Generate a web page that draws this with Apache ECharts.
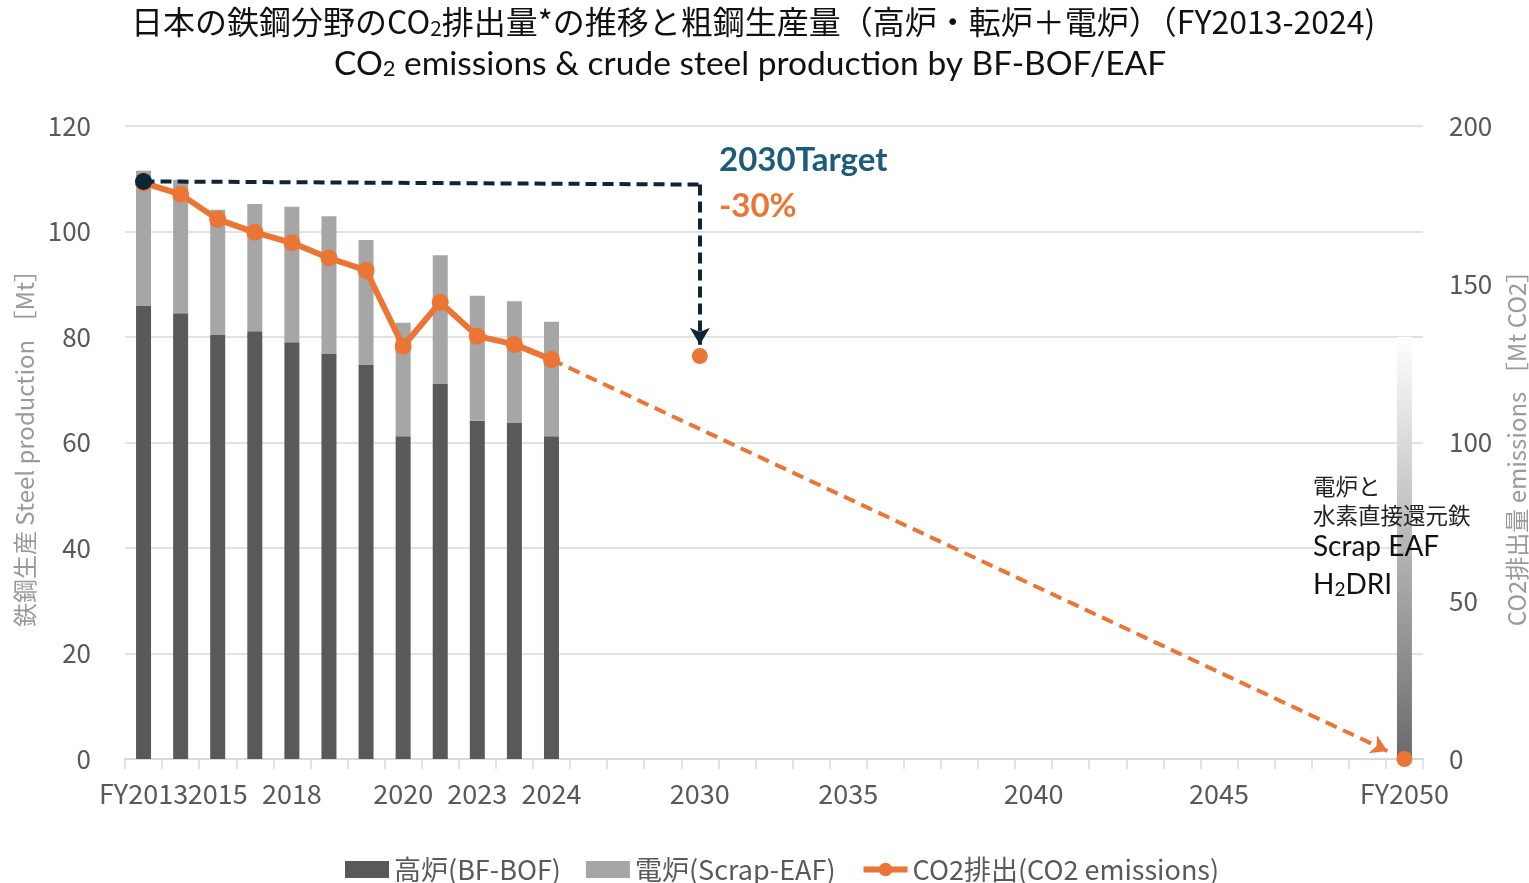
<!DOCTYPE html>
<html><head><meta charset="utf-8">
<script src="https://cdn.jsdelivr.net/npm/echarts@6/dist/echarts.min.js"></script>
<style>html,body{margin:0;padding:0;background:#fff}#c{width:1529px;height:883px}</style>
</head><body><div id="c"></div>
<script>
// ---- data ----
const tickLabels = ['FY2013','','2015','','2018','','','2020','','2023','','2024','','','','2030','','','','2035','','','','','2040','','','','','2045','','','','','FY2050'];
const bfProduction  = [85.9, 84.5, 80.4, 81.1, 79.0, 76.8, 74.8, 61.2, 71.1, 64.1, 63.7, 61.2];
const eafProduction = [25.6, 25.3, 23.7, 24.1, 25.7, 26.1, 23.6, 21.5, 24.4, 23.7, 23.1, 21.7];
const co2Emissions  = [182.0, 178.4, 170.5, 166.4, 163.1, 158.3, 154.4, 130.4, 144.3, 133.6, 131.0, 126.2];
const targetIndex = 15, targetCo2 = 127.3;       // 2030 target (-30%)
const endIndex = 34, endCo2 = 0;                 // FY2050
const endProduction = 80;                        // Scrap EAF / H2DRI column

// ---- build ----
const N = tickLabels.length;
const categories = tickLabels.map((l, i) => 'c' + i);
const pad = arr => { const out = new Array(N).fill(null); arr.forEach((v, i) => out[i] = v); return out; };
const bfData = pad(bfProduction);
const eafData = pad(eafProduction);
const co2Data = pad(co2Emissions);
const futureData = new Array(N).fill(null); futureData[endIndex] = endProduction;

const ORANGE = '#EB7534', NAVY = '#0D2535', GREY = '#595959';
const last = co2Emissions.length - 1;
const t = 0.98;
const arrowEnd = [last + (endIndex - last) * t, co2Emissions[last] + (endCo2 - co2Emissions[last]) * t];

const chart = echarts.init(document.getElementById('c'));
chart.setOption({
  animation: false,
  textStyle: { fontFamily: '"Noto Sans CJK JP", "Noto Sans", sans-serif' },
  title: [
    { text: '{a|日本の鉄鋼分野のCO}{s|2}{a|排出量*の推移と粗鋼生産量（高炉・転炉＋電炉）（FY2013-2024)}',
      left: 131, top: 2, padding: 0,
      textStyle: { fontWeight: 'normal', rich: {
        a: { fontSize: 32, fontWeight: 'normal', color: '#111', fontFamily: '"Noto Sans CJK JP"', lineHeight: 40 },
        s: { fontSize: 21, fontWeight: 'normal', color: '#111', fontFamily: '"Noto Sans CJK JP"', lineHeight: 40, verticalAlign: 'bottom', padding: [0,0,3,0] } } } },
    { text: '{a|CO}{s|2}{a| emissions & crude steel production by BF-BOF/EAF}',
      left: 334, top: 44, padding: 0,
      textStyle: { fontWeight: 'normal', rich: {
        a: { fontSize: 33.5, fontWeight: 'normal', color: '#111', fontFamily: 'Lato', lineHeight: 40 },
        s: { fontSize: 22, fontWeight: 'normal', color: '#111', fontFamily: 'Lato', lineHeight: 40, verticalAlign: 'bottom', padding: [0,0,4,0] } } } }
  ],
  legend: {
    top: 851, left: 340, itemWidth: 44, itemHeight: 17, itemGap: 25,
    textStyle: { fontSize: 27, color: GREY, fontFamily: '"Noto Sans CJK JP"' },
    lineStyle: { width: 6 },
    data: [
      { name: '高炉(BF-BOF)', icon: 'rect' },
      { name: '電炉(Scrap-EAF)', icon: 'rect' },
      { name: 'CO2排出(CO2 emissions)' }
    ]
  },
  grid: { left: 125, right: 106, top: 126, bottom: 124, containLabel: false, outerBoundsMode: 'none' },
  xAxis: [
    { type: 'category', data: categories, boundaryGap: true,
      axisLine: { lineStyle: { color: '#D9D9D9', width: 2 } },
      axisTick: { show: true, interval: 0, length: 10, lineStyle: { color: '#D9D9D9', width: 1.5 } },
      axisLabel: { interval: 0, margin: 21, fontSize: 27, color: GREY, hideOverlap: false, formatter: (v, i) => tickLabels[i] } },
    { type: 'value', min: -0.5, max: N - 0.5, show: false }
  ],
  yAxis: [
    { type: 'value', min: 0, max: 120, interval: 20, position: 'left',
      name: '鉄鋼生産 Steel production ［Mt］', nameLocation: 'middle', nameRotate: 90, nameGap: 84,
      nameTextStyle: { fontSize: 24, color: '#9A9A9A' },
      axisLine: { show: false }, axisTick: { show: false },
      axisLabel: { fontSize: 26, color: GREY, margin: 34 },
      splitLine: { lineStyle: { color: '#D9D9D9', width: 1.5 } } },
    { type: 'value', min: 0, max: 200, interval: 50, position: 'right',
      name: 'CO2排出量 emissions ［Mt CO2］', nameLocation: 'middle', nameRotate: 90, nameGap: 82,
      nameTextStyle: { fontSize: 24, color: '#9A9A9A' },
      axisLine: { show: false }, axisTick: { show: false },
      axisLabel: { fontSize: 26, color: GREY, margin: 26 },
      splitLine: { show: false } }
  ],
  series: [
    { name: '高炉(BF-BOF)', type: 'bar', stack: 'p', barWidth: 15, data: bfData,
      itemStyle: { color: '#595959' }, silent: true },
    { name: '電炉(Scrap-EAF)', type: 'bar', stack: 'p', barWidth: 15, data: eafData,
      itemStyle: { color: '#A6A6A6' }, silent: true },
    { name: 'future', type: 'bar', stack: 'p', barWidth: 15, data: futureData, silent: true,
      itemStyle: { color: { type: 'linear', x: 0, y: 0, x2: 0, y2: 1,
        colorStops: [{ offset: 0, color: '#FFFFFF' }, { offset: 1, color: '#6A6A6A' }] } } },
    { name: 'CO2排出(CO2 emissions)', type: 'line', yAxisIndex: 1, data: co2Data, z: 3,
      symbol: 'circle', symbolSize: 17, lineStyle: { color: ORANGE, width: 6 },
      itemStyle: { color: ORANGE }, silent: true },
    { name: 'annot', type: 'scatter', xAxisIndex: 1, yAxisIndex: 1, z: 4, silent: true,
      symbolSize: 16, itemStyle: { color: ORANGE, opacity: 1 },
      data: [[targetIndex, targetCo2], [endIndex, endCo2]],
      markLine: {
        silent: true, z: 12, animation: false, label: { show: false }, emphasis: { disabled: true },
        data: [
          [ { coord: [0, co2Emissions[0] + 0.5], symbol: 'circle', symbolSize: 17, lineStyle: { color: NAVY, width: 4, type: [11, 6] }, itemStyle: { color: NAVY } },
            { coord: [targetIndex, co2Emissions[0] - 0.5], symbol: 'none' } ],
          [ { coord: [targetIndex, co2Emissions[0] - 0.5], symbol: 'none', lineStyle: { color: NAVY, width: 4, type: [11, 6] }, itemStyle: { color: NAVY } },
            { coord: [targetIndex, targetCo2 + 3.6], symbol: 'arrow', symbolSize: [15, 17] } ],
          [ { coord: [last, co2Emissions[last]], symbol: 'none', lineStyle: { color: ORANGE, width: 4, type: [12, 7] }, itemStyle: { color: ORANGE } },
            { coord: arrowEnd, symbol: 'arrow', symbolSize: [15, 16] } ]
        ]
      } }
  ],
  graphic: [
    { type: 'text', left: 719, top: 144, z: 100, style: { text: '2030Target', fontSize: 33, fontWeight: 'bold', fontFamily: 'Lato', fill: '#1D5B7B' } },
    { type: 'text', left: 719, top: 190, z: 100, style: { text: '-30%', fontSize: 33, fontWeight: 'bold', fontFamily: 'Lato', fill: ORANGE } },
    { type: 'text', left: 1313, top: 472, z: 100, style: { text: '電炉と\n水素直接還元鉄', fontSize: 22.5, lineHeight: 29, fontFamily: '"Noto Sans CJK JP"', fill: '#222' } },
    { type: 'text', left: 1313, top: 533, z: 100, style: { text: '{a|Scrap EAF}\n{a|H}{s|2}{a|DRI}', fill: '#111',
        rich: { a: { fontSize: 28, fontFamily: 'Lato', lineHeight: 38, color: '#111' },
                s: { fontSize: 19, fontFamily: 'Lato', lineHeight: 38, verticalAlign: 'bottom', color: '#111', padding: [0,0,5,0] } } } }
  ]
});
</script></body></html>
